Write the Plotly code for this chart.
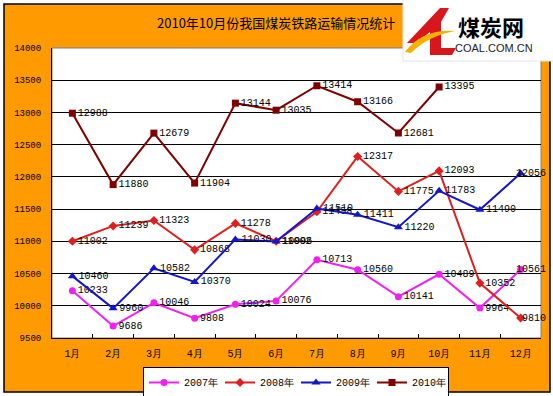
import plotly.graph_objects as go

months = ["1月", "2月", "3月", "4月", "5月", "6月", "7月", "8月", "9月", "10月", "11月", "12月"]
series_names = ["2007年", "2008年", "2009年", "2010年"]
v2007 = [10233, 9686, 10046, 9808, 10024, 10076, 10713, 10560, 10141, 10489, 9964, 10561]
v2008 = [11002, 11239, 11323, 10868, 11278, 11002, 11458, 12317, 11775, 12093, 10352, 9810]
v2009 = [10460, 9960, 10582, 10370, 11030, 10996, 11510, 11411, 11220, 11783, 11490, 12056]
v2010 = [12988, 11880, 12679, 11904, 13144, 13035, 13414, 13166, 12681, 13395]
title_text = "2010年10月份我国煤炭铁路运输情况统计"

colors = ["#F020F0", "#E01E1E", "#1414C8", "#800000"]
symbols = ["circle", "diamond", "triangle-up", "square"]
msizes = [7, 7, 8, 7]

W_FIG, H_FIG = 553, 396
L, R, T, B = 52, 541, 48, 338
PW, PH = R - L, B - T
LABEL_FONT = dict(family="Liberation Mono", size=10, color="black")


def px(x):
    return (x - L) / PW


def py(y):
    return (B - y) / PH


fig = go.Figure()
annotations = []
for name, vals, c, s, ms in zip(series_names, [v2007, v2008, v2009, v2010], colors, symbols, msizes):
    labels = [str(v) for v in vals]
    if len(vals) == len(months):
        # last-column label is right-aligned inside the frame (as in the original)
        labels[-1] = ""
        annotations.append(dict(text=str(vals[-1]), xref="x", yref="y", x=months[-1], y=vals[-1],
                                xanchor="right", yanchor="middle", xshift=27, showarrow=False,
                                font=LABEL_FONT))
    fig.add_trace(go.Scatter(
        x=months[:len(vals)], y=vals, name=name,
        mode="lines+markers+text",
        text=labels, textposition="middle right",
        textfont=LABEL_FONT,
        line=dict(color=c, width=2),
        marker=dict(symbol=s, size=ms, color=c),
        cliponaxis=False,
    ))

shapes = [
    # orange outer frame
    dict(type="rect", xref="paper", yref="paper", layer="below",
         x0=px(4), x1=px(550), y0=py(392), y1=py(4),
         fillcolor="#FF9A00", line=dict(color="black", width=1.5)),
    # plot area
    dict(type="rect", xref="paper", yref="paper", layer="below",
         x0=0, x1=1, y0=0, y1=1,
         fillcolor="white", line=dict(color="#808080", width=1)),
    # logo white box
    dict(type="rect", xref="paper", yref="paper", layer="above",
         x0=px(403), x1=px(556), y0=py(61), y1=py(-3),
         fillcolor="white", line=dict(color="#E4E4E4", width=1)),
]


def path(pts):
    return "M " + " L ".join(f"{px(x):.5f},{py(y):.5f}" for x, y in pts) + " Z"


# logo red mark
shapes.append(dict(type="path", xref="paper", yref="paper", layer="above",
                   path=path([(440, 8), (449, 8), (441, 22), (441, 48), (456, 48), (452, 55),
                              (430, 55), (430, 32), (416, 43), (407, 43)]),
                   fillcolor="#D8161B", line=dict(width=0)))
# yellow swoosh
sw = (f"M {px(405):.5f},{py(52):.5f} Q {px(422):.5f},{py(29):.5f} {px(455):.5f},{py(31):.5f} "
      f"Q {px(428):.5f},{py(36):.5f} {px(411):.5f},{py(53):.5f} Z")
shapes.append(dict(type="path", xref="paper", yref="paper", layer="above",
                   path=sw, fillcolor="#F2B200", line=dict(width=0)))

annotations += [
    dict(text=title_text, xref="paper", yref="paper", x=px(276), y=py(23),
         xanchor="center", yanchor="middle", showarrow=False,
         font=dict(family="Noto Sans CJK SC", size=13, color="black")),
    dict(text="<b>煤炭网</b>", xref="paper", yref="paper", x=px(491), y=py(26),
         xanchor="center", yanchor="middle", showarrow=False,
         font=dict(family="Noto Sans CJK SC", size=22, color="black")),
    dict(text="COAL.COM.CN", xref="paper", yref="paper", x=px(494), y=py(48),
         xanchor="center", yanchor="middle", showarrow=False,
         font=dict(family="Liberation Sans", size=11, color="#222222")),
]

fig.update_layout(
    width=W_FIG, height=H_FIG,
    margin=dict(l=L, r=W_FIG - R, t=T, b=H_FIG - B, pad=0, autoexpand=False),
    paper_bgcolor="white", plot_bgcolor="white",
    shapes=shapes, annotations=annotations,
    showlegend=True,
    legend=dict(orientation="h", x=px(296), y=py(367), xanchor="center", yanchor="top",
                bgcolor="white", bordercolor="black", borderwidth=1,
                font=dict(family="Liberation Mono", size=10, color="black"),
                itemwidth=30, entrywidth=31, tracegroupgap=0),
    xaxis=dict(type="category", range=[-0.5, 11.5], showgrid=False,
               tickson="boundaries", ticks="inside", ticklen=4, tickcolor="black",
               showline=True, linecolor="black", linewidth=1,
               tickfont=dict(family="Liberation Mono", size=10, color="black"),
               ticklabelstandoff=6, fixedrange=True),
    yaxis=dict(range=[9500, 14000], dtick=500, tick0=9500, showgrid=True,
               gridcolor="black", gridwidth=1, zeroline=False, tickformat="d",
               showline=True, linecolor="black", linewidth=1, ticks="",
               tickfont=dict(family="Liberation Mono", size=9, color="black"),
               ticklabelstandoff=8, fixedrange=True),
)

fig.write_html("out.html", config={"displayModeBar": False},
               post_script="document.body.style.margin='0';document.body.style.padding='0';")
